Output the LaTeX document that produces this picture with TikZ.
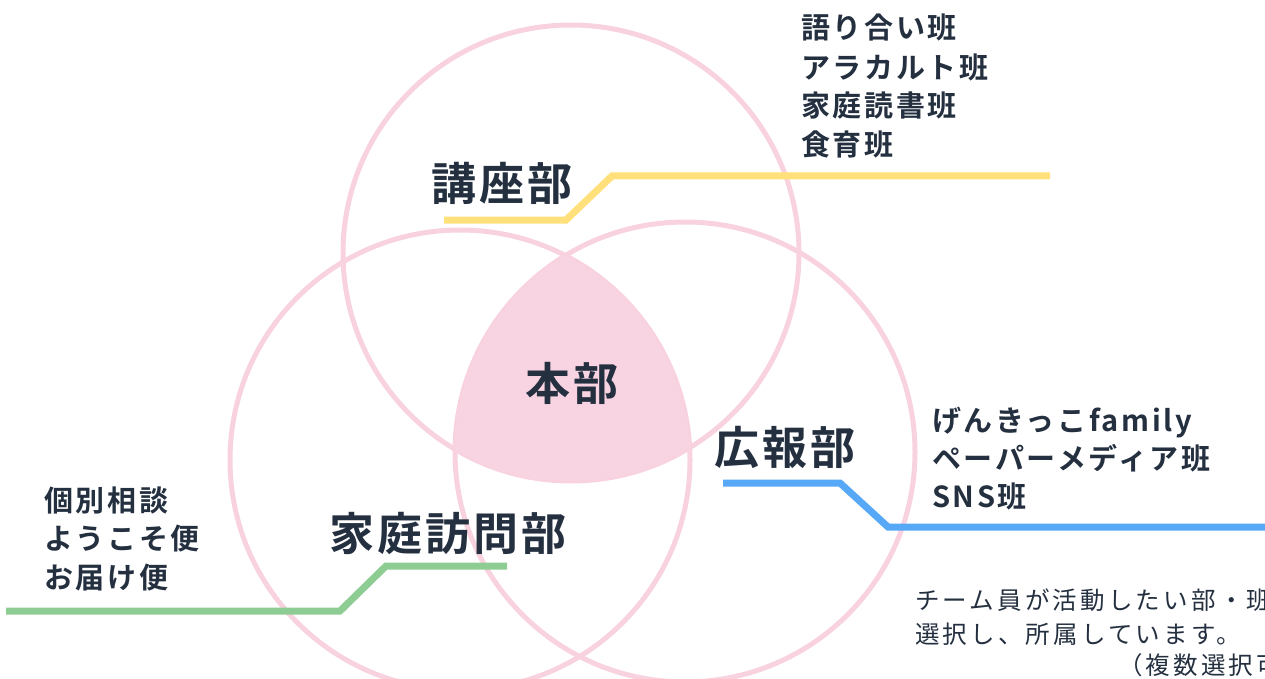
\documentclass[tikz,border=0pt]{standalone}
\usepackage{fontspec}
\setmainfont{Noto Sans CJK JP}
\newfontfamily\jpbold[LetterSpace=7]{Noto Sans CJK JP Bold}
\newfontfamily\jpitem[LetterSpace=9]{Noto Sans CJK JP Bold}
\newfontfamily\jpnote[LetterSpace=13]{Noto Sans CJK JP}
\definecolor{txt}{HTML}{243040}
\definecolor{ring}{HTML}{F8D2DE}
\definecolor{core}{HTML}{F8D3E1}
\definecolor{yel}{HTML}{FFE07A}
\definecolor{grn}{HTML}{8DCC93}
\definecolor{blu}{HTML}{58A8F8}
\tikzset{
  ringline/.style={draw=ring,line width=5pt},
  title/.style={text=txt,font=\jpbold\fontsize{45}{50}\selectfont,inner sep=0pt,text height=39.6pt,text depth=5.4pt},
  item/.style={text=txt,font=\jpitem\fontsize{29}{34}\selectfont,anchor=west,inner sep=0pt,text height=25.5pt,text depth=3.5pt},
  note/.style={text=txt,font=\jpnote\fontsize{24.5}{28}\selectfont,anchor=west,inner sep=0pt,text height=21.6pt,text depth=2.9pt},
  bar/.style={line width=7pt,line join=miter}
}
\begin{document}
\begin{tikzpicture}[x=1pt,y=-1pt]
\useasboundingbox (0,0) rectangle (1265,679);
\clip (0,0) rectangle (1265,679);
\coordinate (ct) at (571,253);
\coordinate (cl) at (460,460);
\coordinate (cr) at (685,452);
\draw[ringline] (ct) circle (228);
\draw[ringline] (cl) circle (230);
\draw[ringline] (cr) circle (230);
\begin{scope}
\clip (ct) circle (228);
\clip (cl) circle (230);
\fill[core] (cr) circle (230);
\end{scope}
% titles
\node[title] (hon) at (572,383) {本部};
\node[title] (koza) at (502,183) {講座部};
\node[title] (koho) at (785,447) {広報部};
\node[title] (katei) at (448,533) {家庭訪問部};
% yellow
\coordinate (y1) at (444,220);
\coordinate (y2) at (566,220);
\coordinate (y3) at (612,176);
\coordinate (y4) at (1050,176);
\draw[bar,yel] (y1) -- (y2) -- (y3) -- (y4);
% blue
\coordinate (b1) at (723,483);
\coordinate (b2) at (840,483);
\coordinate (b3) at (888,527);
\coordinate (b4) at (1270,527);
\draw[bar,blu] (b1) -- (b2) -- (b3) -- (b4);
% green
\coordinate (g1) at (6,611);
\coordinate (g2) at (340,611);
\coordinate (g3) at (386,566);
\coordinate (g4) at (507,566);
\draw[bar,grn] (g1) -- (g2) -- (g3) -- (g4);
% lists
\node[item] (ya) at (801,28) {語り合い班};
\node[item] (yb) at (801,68) {アラカルト班};
\node[item] (yc) at (801,106) {家庭読書班};
\node[item] (yd) at (801,145) {食育班};
\node[item] (ba) at (932,420) {げんきっこfamily};
\node[item] (bb) at (932,458) {ペーパーメディア班};
\node[item] (bc) at (932,496) {SNS班};
\node[item] (ga) at (44,500) {個別相談};
\node[item] (gb) at (44,538) {ようこそ便};
\node[item] (gc) at (44,577) {お届け便};
% note
\node[note] (na) at (915,600) {チーム員が活動したい部・班を};
\node[note] (nb) at (915,634) {選択し、所属しています。};
\node[note] (nc) at (1118,665) {（複数選択可）};
\end{tikzpicture}
\end{document}
